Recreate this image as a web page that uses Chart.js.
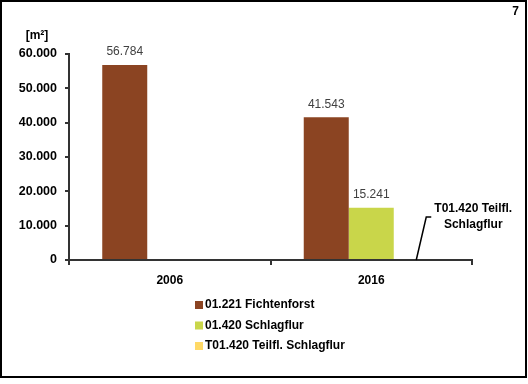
<!DOCTYPE html>
<html>
<head>
<meta charset="utf-8">
<script src="https://cdn.jsdelivr.net/npm/chart.js@4/dist/chart.umd.min.js"></script>
<style>
  html, body { margin: 0; padding: 0; background: #fff; }
  #wrap { width: 528px; height: 384px; }
</style>
</head>
<body>
<div id="wrap"><canvas id="chart" width="528" height="384"></canvas></div>
<script>
const categories = ['2006', '2016'];
const seriesNames = ['01.221 Fichtenforst', '01.420 Schlagflur', 'T01.420 Teilfl. Schlagflur'];
const fichtenforst = [56784, 41543];
const schlagflur = [null, 15241];
const teilflSchlagflur = [null, 0];
const seriesColors = ['#8B4422', '#C9D64A', '#FFD966'];
const yTicks = [0, 10000, 20000, 30000, 40000, 50000, 60000];

const FONT = "'Liberation Sans', Arial, sans-serif";

function fmt(v) {
  return String(v).replace(/\B(?=(\d{3})+(?!\d))/g, '.');
}

// border, page number, unit, value labels, legend, callout
const decorations = {
  id: 'decorations',
  afterDraw(chart) {
    const ctx = chart.ctx;
    ctx.save();

    ctx.strokeStyle = '#000';
    ctx.lineWidth = 2;
    ctx.strokeRect(1, 1, 525, 376);

    ctx.fillStyle = '#000';
    ctx.font = 'bold 12px ' + FONT;
    ctx.textBaseline = 'middle';
    ctx.textAlign = 'right';
    ctx.fillText('7', 519, 12);
    ctx.textAlign = 'center';
    ctx.fillText('[m²]', 37, 36);

    // value labels
    ctx.font = '12px ' + FONT;
    ctx.fillStyle = '#404040';
    chart.data.datasets.forEach((ds, i) => {
      const meta = chart.getDatasetMeta(i);
      meta.data.forEach((el, j) => {
        const v = ds.data[j];
        if (v) ctx.fillText(fmt(v), el.x, el.y - 13);
      });
    });

    // legend
    ctx.font = 'bold 12px ' + FONT;
    ctx.fillStyle = '#000';
    ctx.textAlign = 'left';
    chart.data.datasets.forEach((ds, i) => {
      const y = 305 + i * 20.5;
      ctx.fillStyle = ds.backgroundColor;
      ctx.fillRect(195, y - 4, 8, 8);
      ctx.fillStyle = '#000';
      ctx.fillText(ds.label, 205, y);
    });

    // callout for the zero bar
    const el = chart.getDatasetMeta(2).data[1];
    ctx.strokeStyle = '#000';
    ctx.lineWidth = 1.5;
    ctx.beginPath();
    ctx.moveTo(el.x, el.y);
    ctx.lineTo(el.x + 10, el.y - 43);
    ctx.lineTo(el.x + 15, el.y - 43);
    ctx.stroke();
    ctx.textAlign = 'center';
    ctx.fillText('T01.420 Teilfl.', el.x + 57, el.y - 51);
    ctx.fillText('Schlagflur', el.x + 57, el.y - 35);

    ctx.restore();
  }
};

const datasets = [fichtenforst, schlagflur, teilflSchlagflur].map((data, i) => ({
  label: seriesNames[i],
  data: data,
  backgroundColor: seriesColors[i],
  barPercentage: 1,
  categoryPercentage: 0.67
}));

new Chart(document.getElementById('chart'), {
  type: 'bar',
  data: { labels: categories, datasets: datasets },
  options: {
    responsive: false,
    animation: false,
    layout: { padding: { top: 54, right: 56, left: 0, bottom: 0 } },
    plugins: { legend: { display: false }, tooltip: { enabled: false } },
    scales: {
      x: {
        afterFit(scale) { scale.height = 124; },
        grid: { drawOnChartArea: false, tickLength: 5, color: '#333', lineWidth: 2 },
        border: { display: true, color: '#333', width: 2 },
        ticks: { color: '#000', padding: 8, font: { family: FONT, size: 12, weight: 'bold' } }
      },
      y: {
        min: yTicks[0],
        max: yTicks[yTicks.length - 1],
        afterFit(scale) { scale.width = 69; },
        afterBuildTicks(scale) { scale.ticks = yTicks.map(v => ({ value: v })); },
        grid: { drawOnChartArea: false, tickLength: 4, color: '#333', lineWidth: 2 },
        border: { display: true, color: '#333', width: 2 },
        ticks: {
          color: '#000', padding: 8,
          font: { family: FONT, size: 12.5, weight: 'bold' },
          callback: v => fmt(v)
        }
      }
    }
  },
  plugins: [decorations]
});
</script>
</body>
</html>
